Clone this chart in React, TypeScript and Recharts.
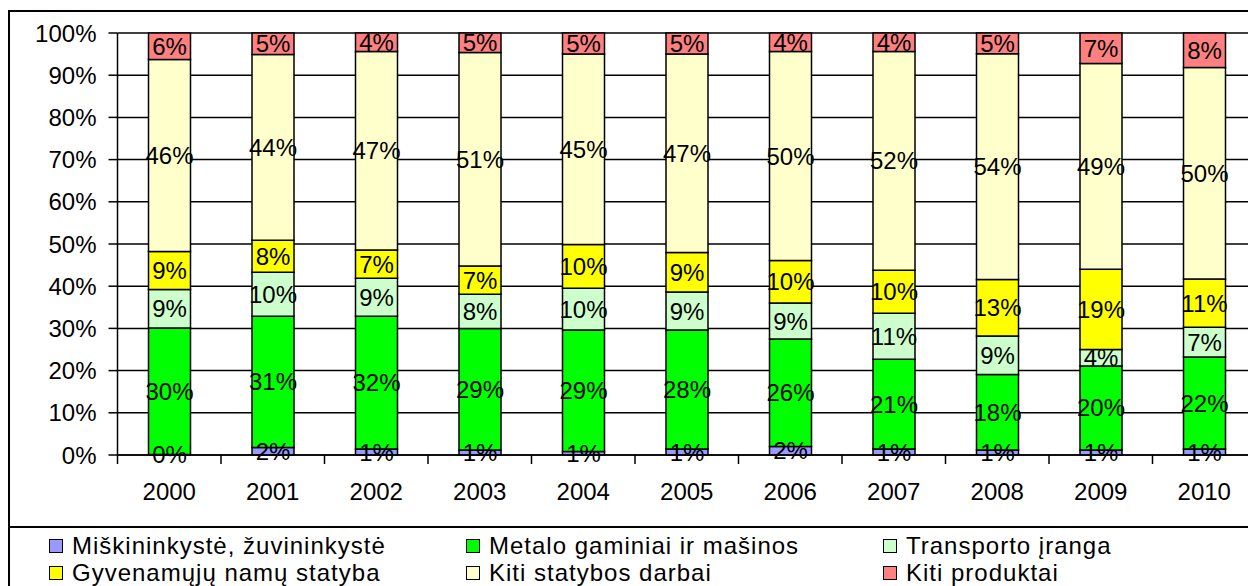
import React from 'react';
import { BarChart, Bar, XAxis, YAxis, CartesianGrid, LabelList } from 'recharts';

// shares of each product group, % of total
const years = ['2000', '2001', '2002', '2003', '2004', '2005', '2006', '2007', '2008', '2009', '2010'];
const forestry = [0.1, 1.8, 1.4, 1.2, 0.8, 1.4, 2.0, 1.4, 1.2, 1.2, 1.4];
const metal = [30.0, 31.1, 31.5, 28.8, 28.8, 28.2, 25.5, 21.3, 17.9, 19.9, 21.8];
const transport = [9.1, 10.4, 9.0, 8.1, 9.9, 9.0, 8.5, 10.9, 9.1, 3.9, 7.1];
const housing = [9.0, 7.6, 6.7, 6.7, 10.4, 9.4, 10.1, 10.2, 13.4, 19.0, 11.4];
const otherBuild = [45.5, 44.0, 47.0, 50.6, 45.1, 47.0, 49.5, 51.8, 53.5, 48.8, 50.1];
const otherProd = [6.3, 5.1, 4.4, 4.6, 5.0, 5.0, 4.4, 4.4, 4.9, 7.2, 8.2];
const yTicks = [0, 10, 20, 30, 40, 50, 60, 70, 80, 90, 100];

const series = [
  { key: 'forestry', name: 'Miškininkystė, žuvininkystė', color: '#9999FF', values: forestry },
  { key: 'metal', name: 'Metalo gaminiai ir mašinos', color: '#00FF00', values: metal },
  { key: 'transport', name: 'Transporto įranga', color: '#CCFFCC', values: transport },
  { key: 'housing', name: 'Gyvenamųjų namų statyba', color: '#FFFF00', values: housing },
  { key: 'otherBuild', name: 'Kiti statybos darbai', color: '#FFFFCC', values: otherBuild },
  { key: 'otherProd', name: 'Kiti produktai', color: '#FF8080', values: otherProd },
];
// legend reads row by row, three per row
const legendOrder = ['forestry', 'metal', 'transport', 'housing', 'otherBuild', 'otherProd'];

const data = years.map((year, i) => {
  const row: Record<string, string | number> = { year };
  series.forEach((s) => { row[s.key] = s.values[i]; });
  return row;
});

const FONT = '"Liberation Sans", Arial, sans-serif';
const CHART_W = 1280;
const CHART_H = 520;
const PLOT_LEFT = 117.5;
const PLOT_W = 1138.5;
const BAND = PLOT_W / years.length;

const YearTick = (props: any) => {
  const { x, y, payload } = props;
  const left = x - BAND / 2;
  return (
    <g>
      <line x1={left} y1={y} x2={left} y2={y + 9} stroke="#000" strokeWidth={1.5} />
      <text x={x} y={y + 28} dy="0.71em" textAnchor="middle" fontSize={24} fontFamily={FONT} fill="#000">
        {payload.value}
      </text>
    </g>
  );
};

export default function App() {
  return (
    <div style={{ position: 'fixed', left: 0, top: 0, width: 1248, height: 586, overflow: 'hidden', background: '#fff', fontFamily: FONT }}>
      <div style={{ position: 'absolute', left: 8, top: 10, width: 1280, height: 620, border: '2px solid #000', boxSizing: 'border-box' }} />
      <div style={{ position: 'absolute', left: 8, top: 526, width: 1280, height: 2, background: '#000' }} />
      <div style={{ position: 'absolute', left: 0, top: 0 }}>
        <BarChart
          width={CHART_W}
          height={CHART_H}
          data={data}
          margin={{ top: 33, left: PLOT_LEFT - 100, right: CHART_W - PLOT_LEFT - PLOT_W, bottom: 15 }}
        >
          <CartesianGrid vertical={false} stroke="#000" strokeWidth={1.5} strokeOpacity={1} />
          <XAxis
            dataKey="year"
            height={50}
            axisLine={{ stroke: '#000', strokeWidth: 1.5 }}
            tickLine={false}
            tickSize={0}
            tickMargin={0}
            tick={<YearTick />}
            interval={0}
          />
          <YAxis
            width={100}
            domain={[0, 100]}
            ticks={yTicks}
            interval={0}
            tickFormatter={(v) => `${v}%`}
            axisLine={{ stroke: '#000', strokeWidth: 1.5 }}
            tickLine={{ stroke: '#000', strokeWidth: 1.5 }}
            tickSize={9}
            tickMargin={12}
            tick={{ fill: '#000', fontSize: 24, fontFamily: FONT }}
          />
          {series.map((s) => (
            <Bar key={s.key} dataKey={s.key} stackId="a" fill={s.color} stroke="#000" strokeWidth={1.5} barSize={42} isAnimationActive={false}>
              <LabelList
                dataKey={s.key}
                position="center"
                fill="#000"
                fontSize={24}
                fontFamily={FONT}
                formatter={(v: any) => `${Math.round(Number(v))}%`}
              />
            </Bar>
          ))}
        </BarChart>
      </div>
      {legendOrder.map((key, i) => {
        const s = series.find((d) => d.key === key)!;
        const col = i % 3;
        const row = Math.floor(i / 3);
        return (
          <div
            key={key}
            style={{ position: 'absolute', left: 49 + col * 417, top: 532 + row * 27, height: 27, display: 'flex', alignItems: 'center', whiteSpace: 'nowrap' }}
          >
            <span style={{ width: 14, height: 14, background: s.color, border: '1.5px solid #000', boxSizing: 'border-box', marginRight: 9, display: 'inline-block' }} />
            <span style={{ fontSize: 24, color: '#000', letterSpacing: 1.0 }}>{s.name}</span>
          </div>
        );
      })}
    </div>
  );
}
